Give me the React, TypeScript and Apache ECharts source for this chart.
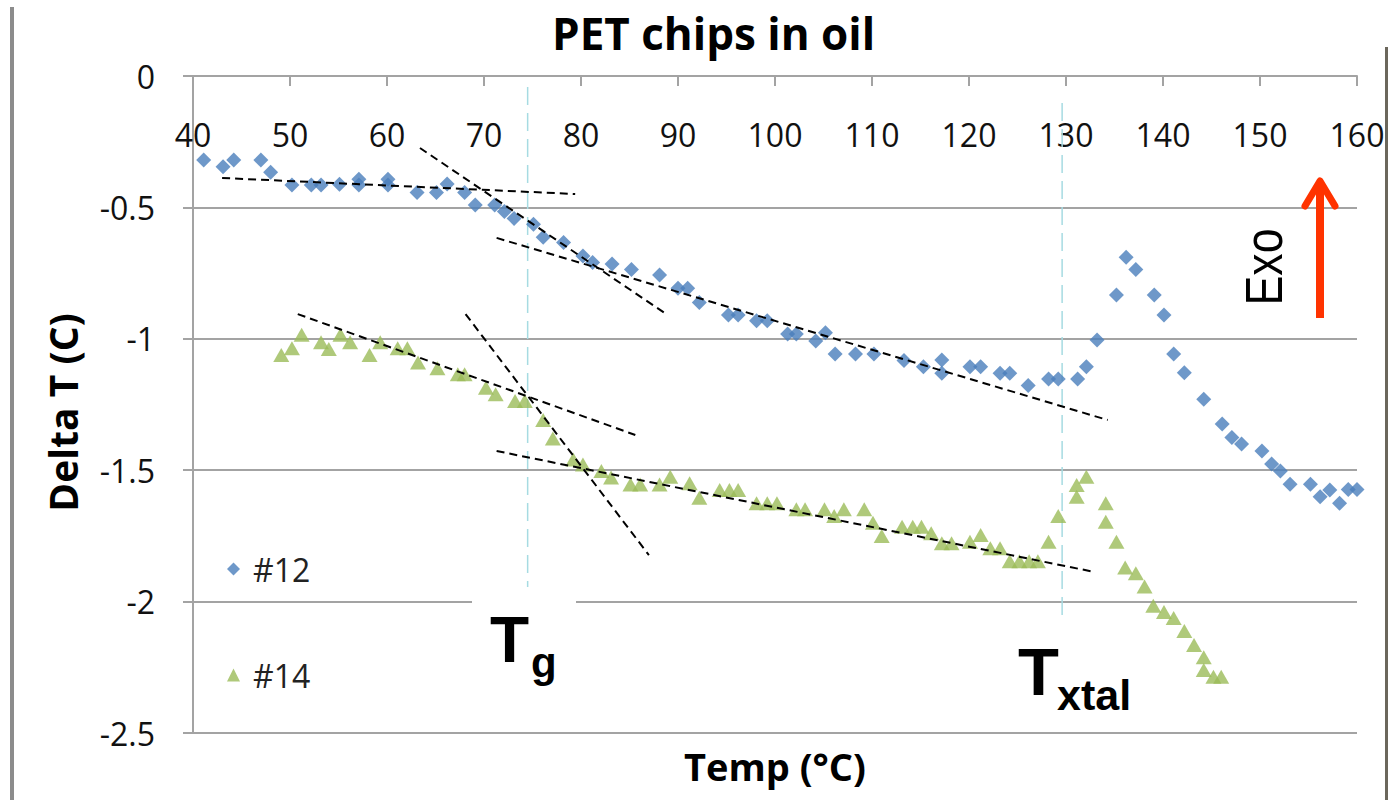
import React, { useEffect, useRef } from "react";
import * as echarts from "echarts";

// Sample #12 (blue diamonds): [Temp °C, Delta T °C]
const sample12: [number, number][] = [
  [41.1, -0.32], [43.1, -0.345], [44.2, -0.32], [47.0, -0.32], [48.0, -0.366],
  [50.2, -0.415], [52.2, -0.415], [53.2, -0.415], [55.1, -0.412], [57.1, -0.393],
  [57.1, -0.415], [60.1, -0.393], [60.1, -0.415], [63.1, -0.443], [65.1, -0.443],
  [66.2, -0.411], [68.0, -0.443], [69.1, -0.491], [71.1, -0.491], [72.1, -0.516],
  [73.1, -0.542], [75.1, -0.564], [76.1, -0.614], [78.2, -0.634], [80.2, -0.685],
  [81.2, -0.71], [83.2, -0.715], [85.2, -0.736], [88.1, -0.757], [90.0, -0.808],
  [91.0, -0.808], [92.2, -0.862], [95.2, -0.909], [96.2, -0.909], [98.1, -0.931],
  [99.2, -0.931], [101.3, -0.982], [102.2, -0.982], [104.2, -1.008], [105.2, -0.977],
  [106.2, -1.058], [108.3, -1.058], [110.2, -1.058], [113.3, -1.083], [115.3, -1.106],
  [117.2, -1.081], [117.2, -1.131], [120.1, -1.106], [121.2, -1.106], [123.2, -1.131],
  [124.2, -1.131], [126.1, -1.178], [128.2, -1.153], [129.2, -1.153], [131.2, -1.153],
  [132.1, -1.106], [133.2, -1.005], [135.2, -0.833], [136.2, -0.69], [137.2, -0.736],
  [139.1, -0.833], [140.1, -0.909], [141.1, -1.058], [142.2, -1.129], [144.2, -1.23],
  [146.1, -1.324], [147.1, -1.376], [148.1, -1.4], [150.2, -1.427], [151.2, -1.476],
  [152.1, -1.503], [153.1, -1.553], [155.2, -1.553], [156.2, -1.601], [157.2, -1.575],
  [158.2, -1.626], [159.1, -1.573], [160.0, -1.573],
];

// Sample #14 (green triangles)
const sample14: [number, number][] = [
  [49.1, -1.062], [50.2, -1.036], [51.2, -0.985], [53.2, -1.013], [54.0, -1.039],
  [55.2, -0.985], [56.2, -1.013], [58.2, -1.062], [59.3, -1.013], [61.1, -1.036],
  [62.1, -1.036], [63.2, -1.09], [65.2, -1.112], [67.3, -1.135], [68.0, -1.135],
  [70.2, -1.186], [71.2, -1.211], [73.2, -1.237], [74.2, -1.237], [76.1, -1.309],
  [77.1, -1.379], [79.2, -1.459], [80.2, -1.478], [82.1, -1.503], [83.1, -1.528],
  [85.1, -1.554], [86.1, -1.554], [88.1, -1.554], [89.2, -1.525], [91.2, -1.55],
  [92.2, -1.605], [94.3, -1.575], [95.3, -1.575], [96.2, -1.575], [98.1, -1.626],
  [99.2, -1.626], [100.2, -1.626], [102.2, -1.649], [103.1, -1.649], [105.1, -1.649],
  [106.1, -1.674], [107.1, -1.649], [109.2, -1.649], [110.1, -1.7], [111.0, -1.75],
  [113.1, -1.715], [114.2, -1.715], [115.1, -1.715], [116.1, -1.74], [117.2, -1.778],
  [118.2, -1.778], [120.1, -1.772], [121.2, -1.747], [122.2, -1.797], [123.2, -1.797],
  [124.2, -1.846], [125.2, -1.846], [126.2, -1.846], [127.1, -1.846], [128.2, -1.772],
  [129.2, -1.674], [131.1, -1.601], [131.1, -1.556], [132.1, -1.525], [134.1, -1.626],
  [134.1, -1.696], [135.2, -1.772], [136.1, -1.87], [137.2, -1.892], [138.1, -1.943],
  [139.0, -2.016], [140.1, -2.04], [141.1, -2.062], [142.2, -2.112], [143.2, -2.165],
  [144.2, -2.212], [144.2, -2.26], [145.2, -2.286], [146.0, -2.286],
];

// Tangent construction lines (black dashed)
const tangent12Glass: [number, number][] = [[43.0, -0.388], [79.4, -0.449]];
const tangent12Step: [number, number][] = [[63.4, -0.274], [88.8, -0.906]];
const tangent12Rubber: [number, number][] = [[71.3, -0.616], [134.3, -1.309]];
const tangent14Glass: [number, number][] = [[50.8, -0.906], [85.6, -1.366]];
const tangent14Step: [number, number][] = [[68.1, -0.906], [87.0, -1.823]];
const tangent14Rubber: [number, number][] = [[71.3, -1.427], [132.9, -1.887]];

// Marker lines (light cyan dashed)
const tgLine: [number, number][] = [[74.5, -0.042], [74.5, -1.944]];
const txtalLine: [number, number][] = [[129.6, -0.103], [129.6, -2.078]];

const seriesNames = ["#12", "#14"];
const xMin = 40, xMax = 160, xStep = 10;
const yMin = -2.5, yMax = 0, yStep = 0.5;

const GRID = "#a3a3a3";
const LABEL_FONT = "'Open Sans', 'Liberation Sans', sans-serif";
const ARIAL = "'Liberation Sans', Arial, sans-serif";

export default function App() {
  const ref = useRef<HTMLDivElement>(null);
  useEffect(() => {
    if (!ref.current) return;
    const chart = echarts.init(ref.current, undefined, { renderer: "svg" });
    const dashLine = (data: [number, number][]) => ({
      type: "line",
      data,
      symbol: "none",
      silent: true,
      z: 5,
      lineStyle: { color: "#000", width: 2, type: [8, 5] },
    });
    const cyanLine = (data: [number, number][]) => ({
      type: "line",
      data,
      symbol: "none",
      silent: true,
      z: 1,
      lineStyle: { color: "#a6dbe2", width: 1.5, type: [18, 8] },
    });
    chart.setOption({
      animation: false,
      backgroundColor: "#fff",
      title: {
        text: "PET chips in oil",
        left: 547,
        top: 6,
        textStyle: { fontSize: 44, fontWeight: "bold", fontFamily: LABEL_FONT, color: "#000" },
      },
      grid: { left: 193, right: 31, top: 76, bottom: 67 },
      legend: {
        data: seriesNames,
        orient: "vertical",
        left: 222,
        top: 548,
        itemWidth: 13,
        itemHeight: 13,
        itemGap: 74,
        textStyle: { fontSize: 32, fontFamily: LABEL_FONT, color: "#222", padding: [0, 0, 0, 8] },
      },
      xAxis: [
        {
          type: "value",
          position: "top",
          min: xMin,
          max: xMax,
          interval: xStep,
          axisLine: { show: true, onZero: false, lineStyle: { color: GRID, width: 2 } },
          axisTick: { show: true, inside: true, length: 10, lineStyle: { color: GRID, width: 2 } },
          axisLabel: { inside: true, margin: 42, fontSize: 32, fontFamily: LABEL_FONT, color: "#111" },
          splitLine: { show: false },
        },
        {
          type: "value",
          position: "bottom",
          min: xMin,
          max: xMax,
          name: "Temp (°C)",
          nameLocation: "middle",
          nameGap: 14,
          nameTextStyle: { fontSize: 38, fontWeight: "bold", fontFamily: LABEL_FONT, color: "#000" },
          axisLine: { show: false },
          axisTick: { show: false },
          axisLabel: { show: false },
          splitLine: { show: false },
        },
      ],
      yAxis: {
        type: "value",
        min: yMin,
        max: yMax,
        interval: yStep,
        name: "Delta T (C)",
        nameLocation: "middle",
        nameGap: 111,
        nameTextStyle: {
          fontSize: 39,
          fontWeight: "bold",
          fontFamily: LABEL_FONT,
          color: "#000",
          padding: [0, 16, 0, 0],
        },
        axisLine: { show: true, lineStyle: { color: GRID, width: 2 } },
        axisTick: { show: true, length: 10, lineStyle: { color: GRID, width: 2 } },
        axisLabel: { margin: 38, fontSize: 32, fontFamily: LABEL_FONT, color: "#111" },
        splitLine: { show: true, lineStyle: { color: GRID, width: 2 } },
      },
      series: [
        {
          name: seriesNames[0],
          type: "scatter",
          data: sample12,
          symbol: "diamond",
          symbolSize: 15,
          itemStyle: { color: "#4a7ebb" },
          z: 3,
        },
        {
          name: seriesNames[1],
          type: "scatter",
          data: sample14,
          symbol: "triangle",
          symbolSize: [16, 14],
          itemStyle: { color: "#9bbb59" },
          z: 3,
        },
        dashLine(tangent12Glass),
        dashLine(tangent12Step),
        dashLine(tangent12Rubber),
        dashLine(tangent14Glass),
        dashLine(tangent14Step),
        dashLine(tangent14Rubber),
        cyanLine(tgLine),
        cyanLine(txtalLine),
      ],
      graphic: [
        { type: "rect", z: 100, shape: { x: 10, y: 7, width: 4, height: 793 }, style: { fill: "#8c8c8c" } },
        { type: "rect", z: 100, shape: { x: 1385, y: 47, width: 3, height: 753 }, style: { fill: "#6b675c" } },
        { type: "rect", z: 100, shape: { x: 472, y: 589, width: 104, height: 108 }, style: { fill: "#fff" } },
        {
          type: "text", z: 101, x: 490, y: 640,
          style: { text: "T", font: `bold 64px ${ARIAL}`, fill: "#000", verticalAlign: "middle", align: "left" },
        },
        {
          type: "text", z: 101, x: 531, y: 662,
          style: { text: "g", font: `bold 42px ${ARIAL}`, fill: "#000", verticalAlign: "middle", align: "left" },
        },
        {
          type: "text", z: 101, x: 1018, y: 671,
          style: { text: "T", font: `bold 67px ${ARIAL}`, fill: "#000", verticalAlign: "middle", align: "left" },
        },
        {
          type: "text", z: 101, x: 1057, y: 695,
          style: { text: "xtal", font: `bold 43px ${ARIAL}`, fill: "#000", verticalAlign: "middle", align: "left" },
        },
        {
          type: "text", z: 101, x: 1264, y: 267, rotation: Math.PI / 2, scaleX: 0.86,
          style: { text: "Exo", font: `52px ${ARIAL}`, fill: "#000", verticalAlign: "middle", align: "center" },
        },
        {
          type: "polyline", z: 101,
          shape: { points: [[1320, 318], [1320, 184]] },
          style: { stroke: "#ff3300", lineWidth: 8, fill: null },
        },
        {
          type: "polyline", z: 101,
          shape: { points: [[1305, 206], [1320, 181], [1335, 206]] },
          style: { stroke: "#ff3300", lineWidth: 7, fill: null, lineCap: "round", lineJoin: "round" },
        },
      ],
    });
    return () => chart.dispose();
  }, []);
  return (
    <div
      ref={ref}
      style={{ position: "absolute", left: 0, top: 0, width: 1388, height: 800, background: "#fff" }}
    />
  );
}
